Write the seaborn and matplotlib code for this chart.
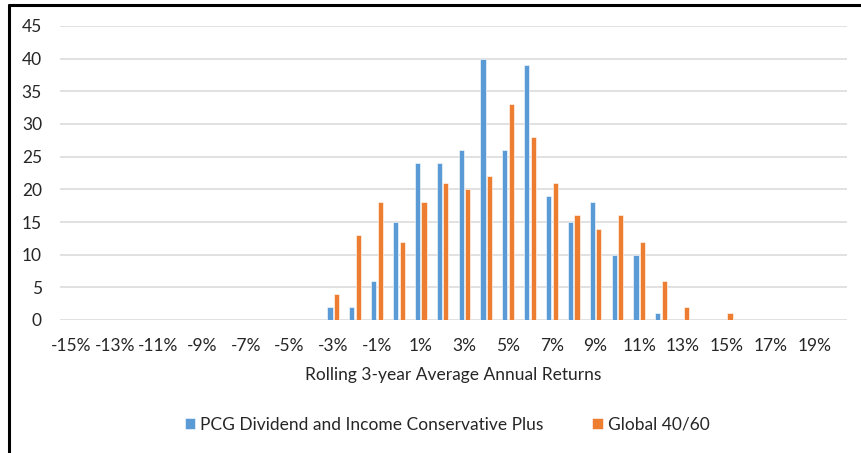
import matplotlib
matplotlib.use("Agg")
import matplotlib.pyplot as plt
import numpy as np
import pandas as pd
import seaborn as sns

# Return buckets (%), -15% .. 20%
returns_pct = list(range(-15, 21))
series_names = ["PCG Dividend and Income Conservative Plus", "Global 40/60"]

# Counts of rolling 3-year periods per return bucket
pcg_counts = [0, 0, 0, 0, 0, 0, 0, 0, 0, 0, 0, 0,
              2, 2, 6, 15, 24, 24, 26, 40, 26, 39, 19, 15, 18, 10, 10, 1,
              0, 0, 0, 0, 0, 0, 0, 0]
global_counts = [0, 0, 0, 0, 0, 0, 0, 0, 0, 0, 0, 0,
                 4, 13, 18, 12, 18, 21, 20, 22, 33, 28, 21, 16, 14, 16, 12, 6,
                 2, 0, 1, 0, 0, 0, 0, 0]

colors = ["#5B9BD5", "#ED7D31"]
text_color = "#262626"

labels = [f"{r}%" for r in returns_pct]
df = pd.DataFrame({
    "bucket": labels * 2,
    "count": pcg_counts + global_counts,
    "series": [series_names[0]] * len(labels) + [series_names[1]] * len(labels),
})

sns.set_theme(style="white")
plt.rcParams["font.family"] = ["Lato", "DejaVu Sans"]

fig = plt.figure(figsize=(8.61, 4.53), dpi=100)
ax = fig.add_axes([60 / 861, 1 - 320 / 453, 787 / 861, 294 / 453])

sns.barplot(data=df, x="bucket", y="count", hue="series", order=labels,
            hue_order=series_names, palette=colors, saturation=1, width=0.6, gap=0.22,
            edgecolor="white", linewidth=0.4, ax=ax, legend=True)

ax.set_ylim(0, 45)
ax.set_xlim(-0.5, len(labels) - 0.5)
ax.set_yticks(range(0, 46, 5))
ax.yaxis.grid(True, color="#D9D9D9", linewidth=1.1)
ax.set_axisbelow(True)
for s in ax.spines.values():
    s.set_visible(False)

fs = 12.5
ax.set_xticks(range(0, len(labels), 2))
ax.set_xticklabels(labels[::2])
ax.tick_params(axis="both", length=0, labelsize=fs, colors=text_color)
ax.tick_params(axis="x", pad=13)
ax.tick_params(axis="y", pad=13)
ax.set_ylabel("")
ax.set_xlabel("Rolling 3-year Average Annual Returns", fontsize=fs,
              color=text_color, labelpad=9)

handles, lbls = ax.get_legend_handles_labels()
ax.get_legend().remove()
fig.legend(handles, lbls, loc="center", bbox_to_anchor=(447 / 861, 1 - 425 / 453),
           ncol=2, frameon=False, fontsize=fs, handlelength=0.6, handleheight=0.6,
           handletextpad=0.3, columnspacing=2.8, labelcolor=text_color)

# Outer frame lines (top and left)
fig.add_artist(plt.Line2D([9 / 861, 1.0], [1 - 5 / 453, 1 - 5 / 453],
                          transform=fig.transFigure, color="black", linewidth=2.2))
fig.add_artist(plt.Line2D([9 / 861, 9 / 861], [0, 1 - 5 / 453],
                          transform=fig.transFigure, color="black", linewidth=2.2))

fig.savefig("out.png", dpi=100)
